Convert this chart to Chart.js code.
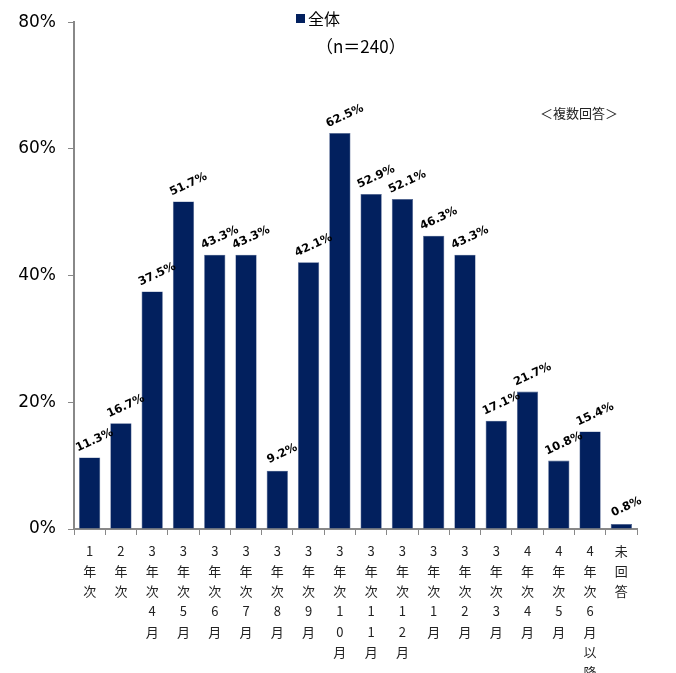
<!DOCTYPE html>
<html>
<head>
<meta charset="utf-8">
<script src="https://cdn.jsdelivr.net/npm/chart.js@4"></script>
<style>
  html, body { margin: 0; padding: 0; background: #fff; }
  #wrap { width: 676px; height: 673px; }
</style>
</head>
<body>
<div id="wrap"><canvas id="grafico"></canvas></div>
<script>
const categorias = ['1年次', '2年次', '3年次4月', '3年次5月', '3年次6月', '3年次7月', '3年次8月', '3年次9月',
  '3年次10月', '3年次11月', '3年次12月', '3年次1月', '3年次2月', '3年次3月', '4年次4月', '4年次5月', '4年次6月以降', '未回答'];
const valores = [11.3, 16.7, 37.5, 51.7, 43.3, 43.3, 9.2, 42.1, 62.5, 52.9, 52.1, 46.3, 43.3, 17.1, 21.7, 10.8, 15.4, 0.8];
const ticksY = [0, 20, 40, 60, 80];
const serie = '全体';
const muestra = '（n＝240）';
const nota = '＜複数回答＞';

const azul = '#02205E';
const fuenteJp = '"Noto Sans CJK JP", "DejaVu Sans", sans-serif';

// etiquetas verticales: un caracter por linea
const etiquetas = categorias.map(c => Array.from(c));

const etiquetasDatos = {
  id: 'etiquetasDatos',
  afterDatasetsDraw(chart) {
    const ctx = chart.ctx;
    const meta = chart.getDatasetMeta(0);
    ctx.save();
    ctx.font = 'bold 11.5px "DejaVu Sans", sans-serif';
    ctx.fillStyle = '#000';
    ctx.textAlign = 'center';
    ctx.textBaseline = 'middle';
    meta.data.forEach((bar, i) => {
      ctx.save();
      ctx.translate(bar.x + 5, bar.y - 17);
      ctx.rotate(-25 * Math.PI / 180);
      ctx.fillText(valores[i].toFixed(1) + '%', 0, 0);
      ctx.restore();
    });
    ctx.restore();
  }
};

const textos = {
  id: 'textos',
  afterDraw(chart) {
    const ctx = chart.ctx;
    ctx.save();
    ctx.fillStyle = azul;
    ctx.fillRect(296, 14, 9, 9);
    ctx.fillStyle = '#000';
    ctx.textBaseline = 'middle';
    ctx.font = '16px ' + fuenteJp;
    ctx.fillText(serie, 308, 19);
    ctx.font = '17px ' + fuenteJp;
    ctx.fillText(muestra, 316, 47);
    ctx.font = '13px ' + fuenteJp;
    ctx.fillStyle = '#222';
    ctx.fillText(nota, 540, 113);
    ctx.restore();
  }
};

new Chart(document.getElementById('grafico'), {
  type: 'bar',
  data: {
    labels: etiquetas,
    datasets: [{
      label: serie,
      data: valores,
      backgroundColor: azul,
      borderColor: '#4a5f8c',
      borderWidth: 0.6,
      barPercentage: 0.68,
      categoryPercentage: 1
    }]
  },
  options: {
    responsive: true,
    maintainAspectRatio: false,
    animation: false,
    layout: { padding: { left: 8, right: 39, top: 14, bottom: 0 } },
    plugins: {
      legend: { display: false },
      tooltip: { enabled: false }
    },
    scales: {
      x: {
        grid: { offset: true, drawOnChartArea: false, drawTicks: true, tickLength: 6, color: '#888', lineWidth: 1 },
        border: { color: '#888', width: 2 },
        ticks: {
          color: '#222',
          maxRotation: 0,
          autoSkip: false,
          padding: 6,
          font: { family: fuenteJp, size: 13, lineHeight: 1.55 }
        },
        afterFit(scale) { scale.height = 144; }
      },
      y: {
        min: 0,
        max: 80,
        afterBuildTicks(scale) { scale.ticks = ticksY.map(v => ({ value: v })); },
        grid: { drawOnChartArea: false, drawTicks: true, tickLength: 6, color: '#888' },
        border: { color: '#888', width: 2 },
        ticks: {
          color: '#000',
          padding: 12,
          callback: v => v + '%',
          font: { family: '"DejaVu Sans", sans-serif', size: 17 }
        },
        afterFit(scale) { scale.width = 66; }
      }
    }
  },
  plugins: [etiquetasDatos, textos]
});
</script>
</body>
</html>
